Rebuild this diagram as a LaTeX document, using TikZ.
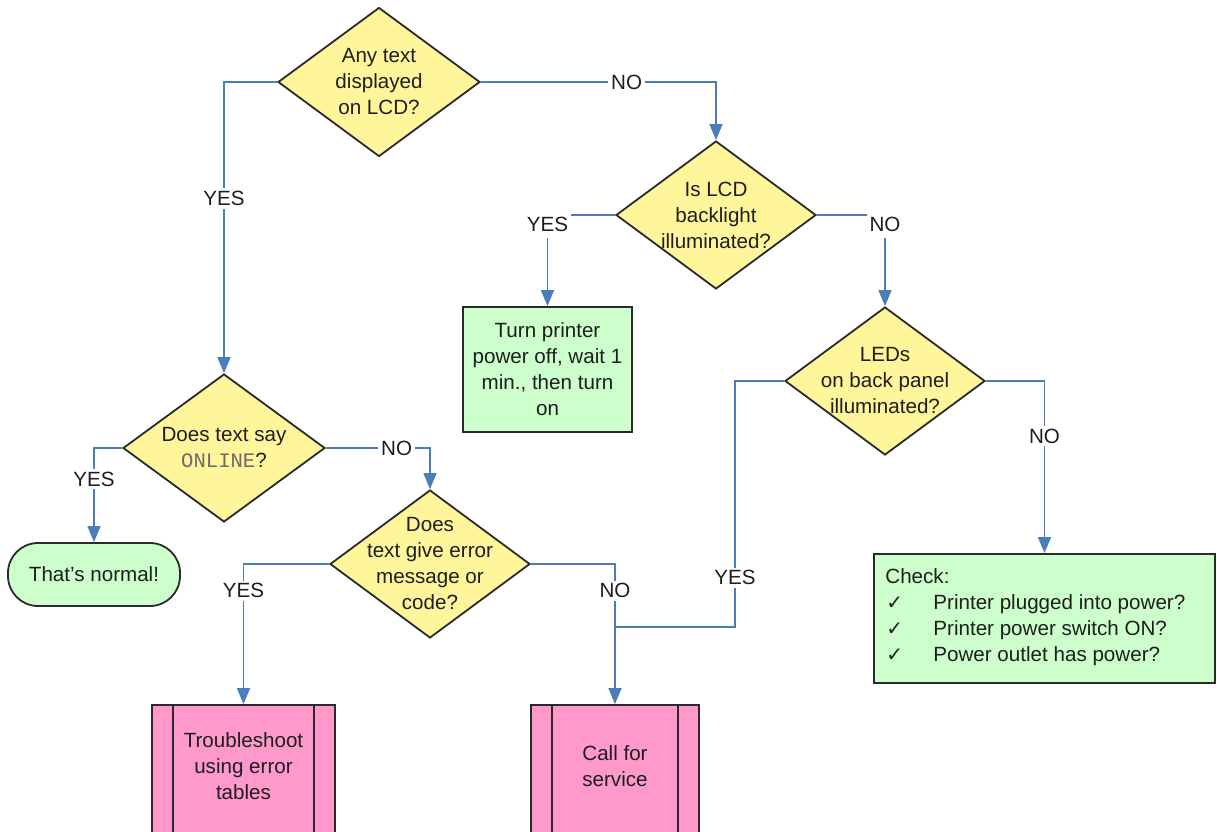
\documentclass[tikz,border=0pt]{standalone}
\usepackage{fontspec}
\setmainfont{Liberation Sans}
\newfontfamily\monof{Liberation Mono}
\newfontfamily\djv{DejaVu Sans}
\usetikzlibrary{shapes.geometric,arrows.meta,calc}
\definecolor{dyel}{HTML}{FFF59A}
\definecolor{gfill}{HTML}{CCFFCC}
\definecolor{pfill}{HTML}{FF99CC}
\definecolor{lblue}{HTML}{4A7EBB}
\definecolor{outc}{HTML}{2A2A2A}
\definecolor{txtc}{HTML}{1E1E1E}
\definecolor{monoc}{HTML}{6A6A6A}
\begin{document}
\begin{tikzpicture}[x=0.5pt,y=-0.5pt,
  font=\fontsize{10.3}{13}\selectfont, text=txtc,
  dia/.style={diamond, draw=outc, line width=0.9pt, fill=dyel, minimum width=100pt, minimum height=74pt, inner sep=0pt},
  dtxt/.style={align=center, inner sep=0pt},
  proc/.style={rectangle, draw=outc, line width=0.9pt, fill=gfill, align=center, inner sep=0pt},
  pbox/.style={rectangle, draw=outc, line width=0.9pt, fill=pfill, inner sep=0pt, minimum height=66pt},
  conn/.style={draw=lblue, line width=0.8pt},
  arr/.style={conn, -{Triangle[width=6.5pt,length=8pt]}},
  lab/.style={fill=white, inner sep=1.5pt, text=txtc},
  ck/.style={}
]
\useasboundingbox (0,0) rectangle (1217,831);
\fill[white] (0,0) rectangle (1217,831);
\clip (0,0) rectangle (1217,831);

% decisions
\node[dia, minimum width=101pt, minimum height=74.5pt] (d1) at (379,82) {};
\node[dtxt] (d1t) at (d1) {Any text\\displayed\\on LCD?};
\node[dia] (d3) at (716,215) {};
\node[dtxt] (d3t) at (d3) {Is LCD\\backlight\\illuminated?};
\node[dia] (d4) at (885,381) {};
\node[dtxt] (d4t) at (d4) {LEDs\\on back panel\\illuminated?};
\node[dia, minimum width=101pt] (d2) at (224,448) {};
\node[dtxt] (d2t) at (d2) {Does text say\\{\monof\color{monoc}ONLINE}?};
\node[dia] (d5) at (430,564) {};
\node[dtxt] (d5t) at (d5) {Does\\text give error\\message or\\code?};

% actions
\node[proc, minimum width=84.5pt, minimum height=62.5pt] (b1) at (547.5,369.5) {Turn printer\\power off, wait 1\\min., then turn\\on};
\node[proc, rounded corners=15pt, minimum width=86pt, minimum height=31.5pt] (term) at (94,574.5) {That’s normal!};
\node[proc, minimum width=170.5pt, minimum height=64.5pt] (chk) at (1044.5,618.5) {};
\node[anchor=west, align=left, inner sep=0pt] (chkt) at (885,617) {Check:\\
\makebox[24pt][l]{\hspace*{0.5pt}{\djv\fontsize{10}{13}\selectfont ✓}}Printer plugged into power?\\
\makebox[24pt][l]{\hspace*{0.5pt}{\djv\fontsize{10}{13}\selectfont ✓}}Printer power switch ON?\\
\makebox[24pt][l]{\hspace*{0.5pt}{\djv\fontsize{10}{13}\selectfont ✓}}Power outlet has power?};

% predefined processes
\node[pbox, minimum width=91.5pt] (tbl) at (243.5,771) {};
\draw[outc, line width=0.9pt] ($(tbl.north west)+(22,0)$) -- ($(tbl.south west)+(22,0)$);
\draw[outc, line width=0.9pt] ($(tbl.north east)+(-22,0)$) -- ($(tbl.south east)+(-22,0)$);
\node[dtxt] (tblt) at (243.5,766) {Troubleshoot\\using error\\tables};
\node[pbox, minimum width=84pt] (call) at (615,771) {};
\draw[outc, line width=0.9pt] ($(call.north west)+(22,0)$) -- ($(call.south west)+(22,0)$);
\draw[outc, line width=0.9pt] ($(call.north east)+(-22,0)$) -- ($(call.south east)+(-22,0)$);
\node[dtxt] (callt) at (615,766) {Call for\\service};

% connectors
\draw[arr] (d1.west) -| node[lab,pos=0.7]{YES} (d2.north);
\draw[arr] (d1.east) -| node[lab,pos=0.31]{NO} (d3.north);
\draw[arr] (d3.west) -| node[lab,inner ysep=3pt,pos=0.554]{YES} (b1.north);
\draw[arr] (d3.east) -| node[lab,inner ysep=3pt,pos=0.554]{NO} (d4.north);
\draw[arr] (d4.east) -| node[lab,pos=0.66]{NO} (chk.north);
\draw[arr] (d2.west) -| node[lab,pos=0.665]{YES} (term.north);
\draw[arr] (d2.east) -| node[lab,pos=0.34]{NO} (d5.north);
\draw[arr] (d5.west) -| node[lab,pos=0.596]{YES} (tbl.north);
\draw[arr] (d5.east) -| node[lab,pos=0.596]{NO} (call.north);
\coordinate (jr) at (735,627);
\coordinate (j) at (call.north |- jr);
\draw[conn] (d4.west) -| node[lab,pos=0.9]{YES} (jr) -- (j);
\end{tikzpicture}
\end{document}
